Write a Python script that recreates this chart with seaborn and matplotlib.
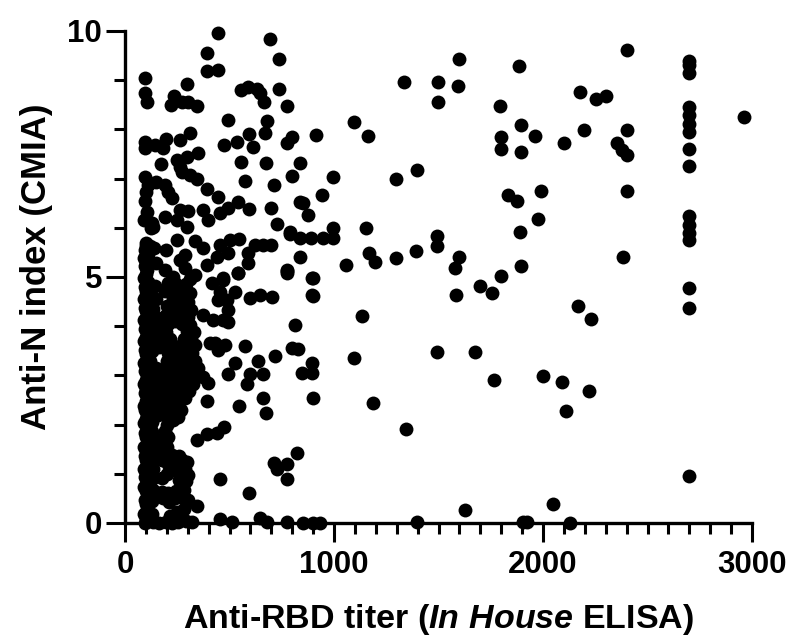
import matplotlib
matplotlib.use("Agg")
import matplotlib.pyplot as plt
import seaborn as sns
import pandas as pd
from matplotlib.ticker import MultipleLocator

# low titer column, solid from 0 up to about 5.7
column_x = [95, 100, 90, 105, 100, 95, 110, 100, 92, 104, 98, 100, 90, 108, 100, 96, 102, 92, 110, 100,
            95, 104, 90, 100, 106, 98, 92, 100, 110, 95, 102, 90, 100, 106, 96, 100, 92, 108, 100, 95,
            103, 90, 100, 110, 96, 100, 92, 105, 100, 95, 108, 90, 100, 102, 96, 110, 92, 100, 105, 98,
            100, 92, 108, 95, 102, 100, 90, 105, 98, 100, 110, 94]
column_y = [0.0, 0.08, 0.18, 0.27, 0.38, 0.46, 0.55, 0.66, 0.74, 0.85, 0.94, 1.02, 1.1, 1.2, 1.28, 1.37, 1.47, 1.55, 1.63, 1.74,
            1.82, 1.93, 2.04, 2.12, 2.2, 2.3, 2.38, 2.47, 2.56, 2.65, 2.73, 2.82, 2.9, 3.0, 3.08, 3.17, 3.26, 3.34, 3.44, 3.52,
            3.6, 3.69, 3.78, 3.87, 3.95, 4.04, 4.12, 4.2, 4.3, 4.38, 4.47, 4.55, 4.64, 4.72, 4.8, 4.9, 4.98, 5.06, 5.14, 5.23,
            5.3, 5.38, 5.46, 5.55, 5.63, 5.7, 6.16, 6.32, 6.55, 6.73, 6.87, 7.03]

# second strand of the same column
strand_x = [122, 118, 125, 120, 124, 118, 122, 126, 120, 118, 124, 122, 120, 126, 118, 122, 125, 120, 118, 124,
            122, 126, 120, 118, 124]
strand_y = [0.12, 0.42, 0.7, 0.95, 1.18, 1.4, 1.66, 1.9, 2.12, 2.36, 2.58, 2.76, 2.95, 3.12, 3.3, 3.48, 3.66, 3.84, 4.0, 4.2,
            4.4, 4.6, 5.3, 5.62, 6.0]

# crowded block right of the column, one row per band of the index
block_x = [135, 165, 195, 225, 255, 290, 320, 215, 250, 280, 130,
           130, 210, 240, 270, 300, 135, 175, 205, 245, 280, 180,
           130, 175, 260, 290, 135, 200, 250, 285, 300, 205, 240, 275, 130, 175, 295,
           150, 190, 225, 260, 130, 165, 200, 140, 180, 205, 130, 190,
           200, 130, 230, 160, 195, 255, 135, 225, 270, 170, 200, 245,
           130, 160, 195, 230, 265, 285, 140, 175, 210, 245, 280, 305, 150, 190, 225, 260, 295, 325,
           135, 170, 205, 240, 275, 310, 330, 150, 190, 225, 260, 295, 320,
           200, 235, 270, 305, 335, 205, 240, 280, 320, 130, 165, 200, 235, 270, 300, 335,
           135, 180, 215, 280, 315, 150, 195, 295, 330,
           135, 170, 205, 240, 275, 310, 145, 190, 225, 265, 300, 135, 240, 280, 315, 200, 260, 300, 150, 230,
           190, 225, 270, 310, 145, 205, 245, 290, 230, 310, 335, 190, 285,
           150, 265, 140, 130]
block_y = [0.02, 0.0, 0.03, 0.0, 0.02, 0.04, 0.02, 0.15, 0.22, 0.28, 0.18,
           0.45, 0.42, 0.5, 0.52, 0.46, 0.68, 0.62, 0.6, 0.66, 0.68, 0.5,
           0.9, 0.92, 0.88, 0.85, 1.1, 1.0, 1.05, 1.1, 0.98, 1.2, 1.25, 1.28, 1.3, 1.28, 1.25,
           1.42, 1.4, 1.38, 1.36, 1.58, 1.52, 1.55, 1.72, 1.7, 1.74, 1.85, 1.88,
           2.0, 2.05, 2.1, 2.2, 2.2, 2.15, 2.3, 2.3, 2.3, 2.38, 2.4, 2.42,
           2.5, 2.55, 2.55, 2.52, 2.5, 2.55, 2.7, 2.72, 2.68, 2.66, 2.7, 2.68, 2.85, 2.88, 2.82, 2.85, 2.88, 2.82,
           3.0, 3.02, 3.0, 3.0, 3.02, 3.0, 2.92, 3.15, 3.14, 3.15, 3.16, 3.14, 3.18,
           3.3, 3.3, 3.3, 3.32, 3.3, 3.45, 3.45, 3.46, 3.45, 3.5, 3.58, 3.6, 3.6, 3.6, 3.6, 3.62,
           3.72, 3.74, 3.74, 3.75, 3.75, 3.88, 3.88, 3.9, 3.88,
           4.02, 4.02, 4.05, 4.1, 4.05, 4.02, 4.18, 4.2, 4.25, 4.2, 4.18, 4.35, 4.38, 4.35, 4.32, 4.42, 4.5, 4.5, 4.55, 4.58,
           4.72, 4.72, 4.7, 4.68, 4.82, 4.88, 4.85, 4.85, 5.0, 4.96, 5.05, 5.15, 5.18,
           5.28, 5.34, 5.58, 6.1]

# the looser part of the cloud, titer below about 1000
cloud_x = [443, 695, 735, 394, 394, 443, 95, 95, 103, 295, 233, 220, 272, 303, 345, 553, 590, 630, 646, 667,
           735, 773, 494, 678, 670, 595, 535, 474, 614, 798, 773, 311, 263, 195, 183, 144, 96, 96,
           350, 295, 248, 172, 263, 272, 311, 345, 555, 674, 574, 798, 837, 713, 150, 191, 206, 225,
           392, 445, 540, 493, 455, 397, 373, 593, 698, 837, 191, 263, 301, 248, 296, 135, 248,
           729, 790, 837, 837, 335, 375, 392, 455, 502, 547, 495, 440, 622, 660, 698, 590, 590, 541, 777,
           195, 287, 470, 995, 995, 890, 947, 995, 943, 852, 876, 790, 895, 895, 775, 813,
           900, 900, 574, 718, 828, 800, 636, 526, 493, 660, 598, 583, 895, 895, 847, 900, 660, 675, 545, 392,
           474, 440, 392, 344, 823, 713, 775, 727, 775, 454, 593, 344,
           454, 512, 646, 680, 775, 852, 900, 933, 407, 431, 445, 478,
           373, 421, 469, 493, 493, 488, 445, 416, 469, 526, 455, 598, 646, 703, 541, 775, 373, 397, 350]
cloud_y = [9.95, 9.83, 9.43, 9.55, 9.18, 9.2, 9.04, 8.75, 8.56, 8.92, 8.67, 8.5, 8.56, 8.56, 8.48, 8.8, 8.87, 8.83, 8.73, 8.56,
           8.82, 8.48, 8.19, 8.17, 7.92, 7.9, 7.75, 7.68, 7.65, 7.85, 7.73, 7.92, 7.78, 7.8, 7.62, 7.68, 7.75, 7.62,
           7.52, 7.44, 7.38, 7.3, 7.24, 7.13, 7.07, 7.0, 7.34, 7.31, 6.96, 7.06, 7.31, 6.87, 6.93, 6.87, 6.73, 6.6,
           6.79, 6.62, 6.53, 6.4, 6.3, 6.16, 6.36, 6.38, 6.4, 6.53, 6.22, 6.36, 6.34, 6.16, 6.02, 6.02, 5.75,
           6.08, 5.87, 5.79, 5.41, 5.73, 5.59, 5.24, 5.65, 5.75, 5.77, 5.49, 5.41, 5.65, 5.65, 5.65, 5.49, 5.28, 5.08, 5.12,
           5.55, 5.45, 4.98, 6.0, 5.79, 5.79, 5.79, 7.03, 6.67, 6.5, 6.26, 5.91, 4.98, 4.63, 5.14, 4.02,
           4.98, 4.61, 3.6, 3.39, 3.53, 3.55, 3.29, 3.25, 3.03, 3.03, 3.03, 2.83, 3.25, 3.05, 3.05, 2.54, 2.54, 2.24, 2.38, 2.48,
           1.95, 1.83, 1.81, 1.69, 1.42, 1.22, 1.2, 1.1, 0.89, 0.89, 0.61, 0.35,
           0.08, 0.03, 0.1, 0.02, 0.03, 0.0, 0.0, 0.0, 3.66, 3.66, 3.52, 3.62,
           4.23, 4.13, 4.13, 4.09, 4.33, 4.53, 4.53, 4.88, 4.94, 4.7, 4.7, 4.57, 4.63, 4.6, 5.08, 5.08, 2.97, 2.85, 3.15]

# sparse points at higher titers
sparse_x = [1096, 1163, 914, 1335, 1498, 1598, 1593, 1498, 1885, 1794, 2402, 2177, 2254, 2301, 2196, 1895, 1962, 2100,
            1800, 1800, 1895, 2354, 2378, 2402, 2402, 2402, 1297, 1397, 1990, 1833, 1876, 1976, 1890, 1153,
            2383, 1895, 1800, 1579, 1598, 1493, 1493, 1392, 1297, 1167, 1196, 1057, 1584, 1699, 1756, 1134, 2167, 2230,
            1096, 1493, 1675, 1766, 2000, 2091, 2220, 2110, 1187, 1344, 2962,
            1397, 1627, 2048, 1904, 1925, 2129]
sparse_y = [8.15, 7.87, 7.89, 8.96, 8.96, 9.43, 8.88, 8.56, 9.29, 8.48, 9.61, 8.76, 8.62, 8.68, 7.99, 8.09, 7.87, 7.72,
            7.85, 7.6, 7.54, 7.72, 7.58, 7.99, 7.48, 6.75, 6.99, 7.17, 6.75, 6.67, 6.54, 6.18, 5.91, 6.0,
            5.41, 5.22, 5.02, 5.18, 5.41, 5.83, 5.63, 5.53, 5.39, 5.49, 5.3, 5.24, 4.63, 4.82, 4.67, 4.21, 4.41, 4.15,
            3.35, 3.48, 3.48, 2.91, 2.99, 2.87, 2.68, 2.28, 2.44, 1.91, 8.25,
            0.03, 0.27, 0.39, 0.02, 0.02, 0.0]

# capped titers form a column at 2700
capped_x = [2700] * 16
capped_y = [9.4, 9.3, 9.15, 8.45, 8.3, 8.1, 7.95, 7.6, 7.25, 6.25, 6.05, 5.9, 5.75, 4.78, 4.37, 0.96]

xlabel = r"Anti-RBD titer ($\mathit{In\ House}$ ELISA)"
ylabel = "Anti-N index (CMIA)"

df = pd.DataFrame({
    "titer": column_x + strand_x + block_x + cloud_x + sparse_x + capped_x,
    "index": column_y + strand_y + block_y + cloud_y + sparse_y + capped_y,
})

sns.set_style("ticks")
plt.rcParams["font.family"] = ["Liberation Sans"]
plt.rcParams["text.color"] = "black"
plt.rcParams["axes.labelcolor"] = "black"
plt.rcParams["xtick.labelcolor"] = "black"
plt.rcParams["ytick.labelcolor"] = "black"
plt.rcParams["axes.edgecolor"] = "black"
plt.rcParams["mathtext.fontset"] = "custom"
plt.rcParams["mathtext.it"] = "Liberation Sans:italic:bold"
plt.rcParams["mathtext.rm"] = "Liberation Sans:bold"

fig = plt.figure(figsize=(7.93, 6.36), dpi=100)
ax = fig.add_axes([125 / 793, 1 - 523 / 636, 627 / 793, 492 / 636])

sns.scatterplot(data=df, x="titer", y="index", color="black", s=100, linewidth=0, clip_on=False, ax=ax, zorder=3)

ax.set_xlim(0, 3000)
ax.set_ylim(0, 10)
ax.xaxis.set_major_locator(MultipleLocator(1000))
ax.xaxis.set_minor_locator(MultipleLocator(100))
ax.yaxis.set_major_locator(MultipleLocator(5))
ax.yaxis.set_minor_locator(MultipleLocator(1))
ax.tick_params(which="major", length=13.5, width=2.2, color="black", labelsize=22.5, pad=3)
ax.tick_params(axis="x", which="major", pad=6)
ax.tick_params(which="minor", length=8, width=2.2, color="black")
for label in ax.get_xticklabels() + ax.get_yticklabels():
    label.set_fontweight("bold")
sns.despine(ax=ax)
ax.spines["left"].set_linewidth(2.4)
ax.spines["bottom"].set_linewidth(2.4)

ax.set_xlabel(xlabel, fontsize=24.5, fontweight="bold", labelpad=16)
ax.set_ylabel(ylabel, fontsize=25, fontweight="bold", labelpad=10, y=0.52)

# panel letter, cut off by the top edge of the crop
fig.text(0.0, 1.028, "B", fontsize=28, fontweight="bold", va="center", ha="left")

fig.savefig("out.png", dpi=100)
